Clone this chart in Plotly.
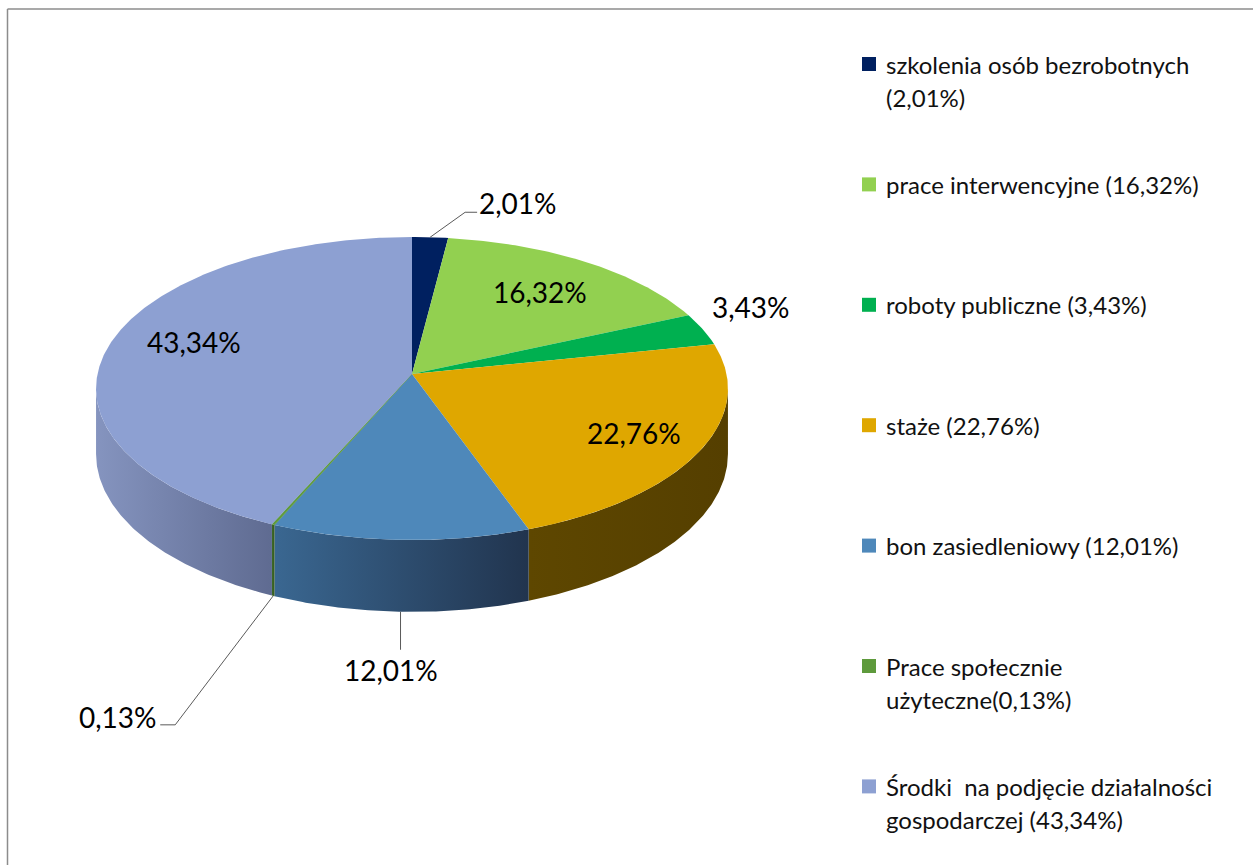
import numpy as np
import plotly.graph_objects as go

# ---------------- data ----------------
categories = [
    "szkolenia osób bezrobotnych",
    "prace interwencyjne",
    "roboty publiczne",
    "staże",
    "bon zasiedleniowy",
    "Prace społecznie użyteczne",
    "Środki  na podjęcie działalności gospodarczej",
]
values = [2.01, 16.32, 3.43, 22.76, 12.01, 0.13, 43.34]
value_labels = ["2,01%", "16,32%", "3,43%", "22,76%", "12,01%", "0,13%", "43,34%"]
legend_lines = [
    ["szkolenia osób bezrobotnych", "(2,01%)"],
    ["prace interwencyjne (16,32%)"],
    ["roboty publiczne (3,43%)"],
    ["staże (22,76%)"],
    ["bon zasiedleniowy (12,01%)"],
    ["Prace społecznie", "użyteczne(0,13%)"],
    ["Środki&nbsp; na podjęcie działalności", "gospodarczej (43,34%)"],
]

# ---------------- style ----------------
top_colors = ["#002060", "#92D050", "#00B050", "#DFA700", "#4E88BA", "#5E9A3C", "#8DA0D2"]
side_colors = [
    ("#001540", "#000F30"),
    ("#5F8A33", "#4E722A"),
    ("#007536", "#005F2C"),
    ("#5E4700", "#553F00"),
    ("#3A6791", "#21344E"),
    ("#3F6A28", "#345A20"),
    ("#8594BF", "#5F6B91"),
]
FONT = "Lato"
W, H_PX = 1253, 865

# pie geometry (pixels, perspective ellipse)
CX, CY = 412, 374
RX, RY, PERSP, DEPTH = 314.5, 150.1, 0.0957, 65


def proj(phi_deg, r=1.0, drop=0.0):
    phi = np.radians(phi_deg)
    u = r * np.sin(phi)
    v = -r * np.cos(phi)
    s = 1.0 / (1.0 - PERSP * v)
    return CX + RX * u * s, CY + (RY * v + drop) * s


total = sum(values)
starts = np.concatenate([[0.0], np.cumsum(values)[:-1]]) / total * 360.0
ends = np.cumsum(values) / total * 360.0
mids = (starts + ends) / 2.0

fig = go.Figure()

# side walls (only visible front part)
vis_a = np.degrees(np.arccos(-PERSP))
vis_b = 360.0 - vis_a
for i in range(len(values)):
    a0, a1 = max(starts[i], vis_a), min(ends[i], vis_b)
    if a1 <= a0:
        continue
    ang = np.linspace(a0, a1, max(3, int((a1 - a0) * 2)))
    xt, yt = proj(ang)
    xb, yb = proj(ang[::-1], drop=DEPTH)
    xs = np.concatenate([xt, xb, xt[:1]])
    ys = np.concatenate([yt, yb, yt[:1]])
    c0, c1 = side_colors[i]
    fig.add_trace(go.Scatter(
        x=xs, y=ys, mode="lines", fill="toself", line=dict(width=0),
        fillcolor=c0,
        fillgradient=dict(type="horizontal", colorscale=[[0, c0], [1, c1]]),
        hoverinfo="skip", showlegend=False,
    ))

# top faces
for i in range(len(values)):
    ang = np.linspace(starts[i], ends[i], max(3, int((ends[i] - starts[i]) * 2)))
    xt, yt = proj(ang)
    xs = np.concatenate([[CX], xt, [CX]])
    ys = np.concatenate([[CY], yt, [CY]])
    fig.add_trace(go.Scatter(
        x=xs, y=ys, mode="lines", fill="toself",
        line=dict(width=0.6 if values[i] < 1 else 0, color=top_colors[i]),
        fillcolor=top_colors[i], hoverinfo="skip", showlegend=False,
        name=categories[i],
    ))

annotations = []
LBL = dict(family=FONT, size=28, color="#000000")
LEADER = "#5a5a5a"

# inside labels
inside_r = {1: 0.72, 3: 0.78, 6: 0.72}
inside_dy = {1: 0, 3: 0, 6: -10}
for i, r in inside_r.items():
    x, y = proj(mids[i], r=r)
    annotations.append(dict(x=x, y=y + inside_dy[i], text=value_labels[i], showarrow=False,
                            xref="x", yref="y", font=LBL))

# outside label: 2,01%
ax_, ay_ = proj(mids[0])
p1 = (ax_ + 35, ay_ - 25)
p2 = (p1[0] + 12, p1[1])
fig.add_trace(go.Scatter(x=[ax_, p1[0], p2[0]], y=[ay_, p1[1], p2[1]], mode="lines",
                         line=dict(color=LEADER, width=1), hoverinfo="skip", showlegend=False))
annotations.append(dict(x=p2[0] + 0, y=p2[1] - 9, text=value_labels[0], showarrow=False,
                        xanchor="left", xref="x", yref="y", font=LBL))

# outside label: 3,43%
ax_, ay_ = proj(mids[2])
annotations.append(dict(x=ax_ + 48, y=ay_ - 22, text=value_labels[2], showarrow=False,
                        xref="x", yref="y", font=LBL))

# outside label: 12,01%
ax_, ay_ = proj(mids[4], drop=DEPTH)
fig.add_trace(go.Scatter(x=[ax_, ax_], y=[ay_, ay_ + 38], mode="lines",
                         line=dict(color=LEADER, width=1), hoverinfo="skip", showlegend=False))
annotations.append(dict(x=ax_ - 10, y=ay_ + 58, text=value_labels[4], showarrow=False,
                        xref="x", yref="y", font=LBL))

# outside label: 0,13%
ax_, ay_ = proj(mids[5], drop=DEPTH)
p1 = (ax_ - 98, ay_ + 129)
p2 = (p1[0] - 15, p1[1])
fig.add_trace(go.Scatter(x=[ax_, p1[0], p2[0]], y=[ay_, p1[1], p2[1]], mode="lines",
                         line=dict(color=LEADER, width=1), hoverinfo="skip", showlegend=False))
annotations.append(dict(x=p2[0] - 1, y=p2[1] - 8, text=value_labels[5], showarrow=False,
                        xanchor="right", xref="x", yref="y", font=LBL))

# legend (custom, Excel-like spacing)
shapes = []
LEG_X, LEG_Y0, LEG_DY, LINE_DY, KEY = 862, 64, 120.4, 33, 14
for i, lines in enumerate(legend_lines):
    yc = LEG_Y0 + i * LEG_DY
    shapes.append(dict(type="rect", xref="x", yref="y", x0=LEG_X, x1=LEG_X + KEY,
                       y0=yc - KEY / 2, y1=yc + KEY / 2, fillcolor=top_colors[i],
                       line=dict(width=0)))
    for k, t in enumerate(lines):
        annotations.append(dict(x=LEG_X + KEY + 8, y=yc + k * LINE_DY, text=t,
                                showarrow=False, xanchor="left", yanchor="middle",
                                xref="x", yref="y",
                                font=dict(family=FONT, size=24, color="#111111")))

# chart border (top and left edges visible)
shapes.append(dict(type="line", xref="x", yref="y", x0=7.5, x1=W, y0=9, y1=9,
                   line=dict(color="#8c8c8c", width=1.5)))
shapes.append(dict(type="line", xref="x", yref="y", x0=7.5, x1=7.5, y0=9, y1=H_PX,
                   line=dict(color="#8c8c8c", width=1.5)))

fig.update_layout(
    width=W, height=H_PX, autosize=False,
    margin=dict(l=0, r=0, t=0, b=0),
    paper_bgcolor="white", plot_bgcolor="white",
    xaxis=dict(range=[0, W], visible=False, fixedrange=True),
    yaxis=dict(range=[H_PX, 0], visible=False, fixedrange=True),
    showlegend=False,
    annotations=annotations, shapes=shapes,
)

fig.write_html("out.html", post_script=["document.body.style.margin='0';"],
               config={"displayModeBar": False})
